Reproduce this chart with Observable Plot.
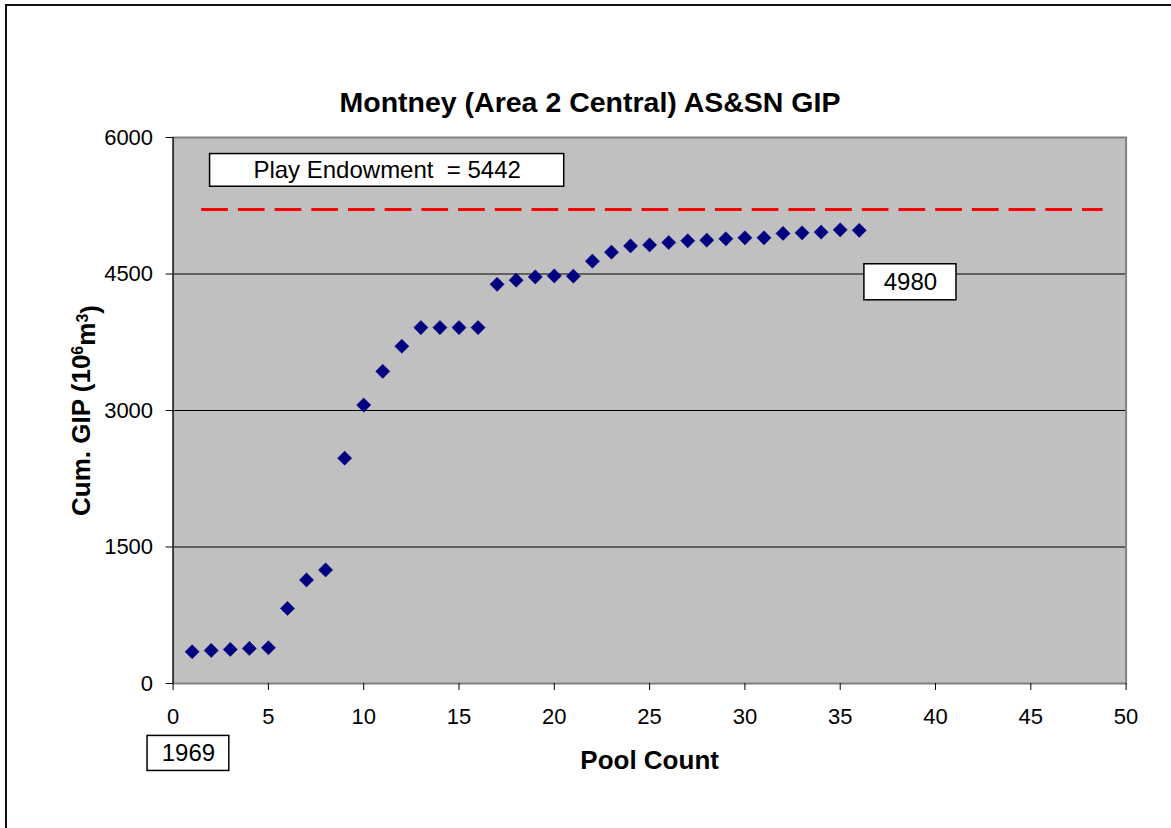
<!DOCTYPE html>
<html>
<head>
<meta charset="utf-8">
<script src="https://cdn.jsdelivr.net/npm/d3@7"></script>
<script src="https://cdn.jsdelivr.net/npm/@observablehq/plot@0.6"></script>
<style>
  html, body { margin: 0; padding: 0; background: #fff; }
  #wrap { position: relative; width: 1171px; height: 828px; overflow: hidden; font-family: "Liberation Sans", Arial, sans-serif; }
  #border { position: absolute; left: 5px; top: 4px; width: 1300px; height: 1000px; border-left: 2px solid #111; border-top: 2px solid #111; box-sizing: border-box; }
  #title { position: absolute; top: 86px; left: 8px; width: 1164px; text-align: center; font-weight: bold; font-size: 28.5px; color: #000; }
  #chart { position: absolute; left: 0; top: 120px; }
</style>
</head>
<body>
<div id="wrap">
  <div id="border"></div>
  <div id="title">Montney (Area 2 Central) AS&amp;SN GIP</div>
  <div id="chart"></div>
</div>
<script>
// ---- data ----
const poolCount = [1,2,3,4,5,6,7,8,9,10,11,12,13,14,15,16,17,18,19,20,21,22,23,24,25,26,27,28,29,30,31,32,33,34,35,36];
const cumGIP = [349,363,374,385,393,825,1138,1248,2476,3060,3430,3706,3911,3911,3911,3911,4387,4432,4468,4479,4476,4641,4740,4809,4820,4846,4865,4872,4887,4898,4898,4946,4952,4960,4985,4980];
const xTicks = [0,5,10,15,20,25,30,35,40,45,50];
const yTicks = [0,1500,3000,4500,6000];
const gridValues = [1500,3000,4500];
const endowmentLine = [{y: 5210, x1: 1.5, x2: 48.8}];
const annotationLabels = ["Play Endowment  = 5442", "4980", "1969"];
const annotationX1 = [1.94, 36.27, -1.34];
const annotationX2 = [20.52, 41.1, 2.95];
const annotationY1 = [5459, 4211, -961];
const annotationY2 = [5818, 4607, -576];
const xLabel = "Pool Count";
const yLabel = "Cum. GIP (10^6m^3)";

const points = poolCount.map((x, i) => ({x, y: cumGIP[i]}));
const annotations = annotationLabels.map((label, i) => ({
  label, x1: annotationX1[i], x2: annotationX2[i], y1: annotationY1[i], y2: annotationY2[i]
}));

const svgHeight = 708;
const plot = Plot.plot({
  width: 1171,
  height: svgHeight,
  marginLeft: 172.6,
  marginRight: 45.4,
  marginTop: 17,
  marginBottom: 145,
  style: {fontFamily: "'Liberation Sans', Arial, sans-serif", fontSize: "22px", background: "transparent", color: "#000"},
  x: {domain: [0, 50], label: null},
  y: {domain: [0, 6000], label: null},
  marks: [
    Plot.frame({fill: "#c0c0c0", stroke: null}),
    Plot.ruleY(gridValues, {stroke: "#000", strokeWidth: 1}),
    Plot.ruleY(endowmentLine, {y: "y", x1: "x1", x2: "x2", stroke: "#ff0000", strokeWidth: 3, strokeDasharray: "26.7,10"}),
    Plot.rect(annotations, {x1: "x1", x2: "x2", y1: "y1", y2: "y2", fill: "#fff", stroke: "#000", strokeWidth: 1.5}),
    Plot.text(annotations, {x: d => (d.x1 + d.x2) / 2, y: d => (d.y1 + d.y2) / 2, text: "label", fontSize: 24, fill: "#000"}),
    Plot.dot(points, {x: "x", y: "y", symbol: "diamond2", r: 6.4, fill: "#000080", stroke: "#000080", strokeWidth: 0.5}),
    Plot.frame({stroke: "#808080", strokeWidth: 2}),
    Plot.axisX({ticks: xTicks, tickSize: 7, tickPadding: 18, fontSize: 22, stroke: "#000", label: null, tickFormat: d => String(d)}),
    Plot.axisY({ticks: yTicks, tickSize: 7, tickPadding: 13, fontSize: 22, stroke: "#000", label: null, tickFormat: d => String(d)}),
    Plot.ruleX([0], {stroke: "#000", strokeWidth: 1}),
    Plot.text([xLabel], {frameAnchor: "bottom", dy: 85, fontSize: 26, fontWeight: "bold", fill: "#000"}),
    Plot.text([yLabel], {frameAnchor: "left", textAnchor: "middle", dx: -91, rotate: -90, fontSize: 26, fontWeight: "bold", fill: "#000"})
  ]
});
document.getElementById("chart").appendChild(plot);

// render superscripts in the y label as real tspans
d3.select(plot).selectAll("text").filter(function() { return this.textContent === yLabel; })
  .each(function() {
    const t = d3.select(this);
    t.text(null);
    t.append("tspan").text("Cum. GIP (10");
    t.append("tspan").attr("font-size", "16px").attr("dy", "-0.45em").text("6");
    t.append("tspan").attr("dy", "0.45em").text("m");
    t.append("tspan").attr("font-size", "16px").attr("dy", "-0.45em").text("3");
    t.append("tspan").attr("dy", "0.45em").text(")");
  });
</script>
</body>
</html>
